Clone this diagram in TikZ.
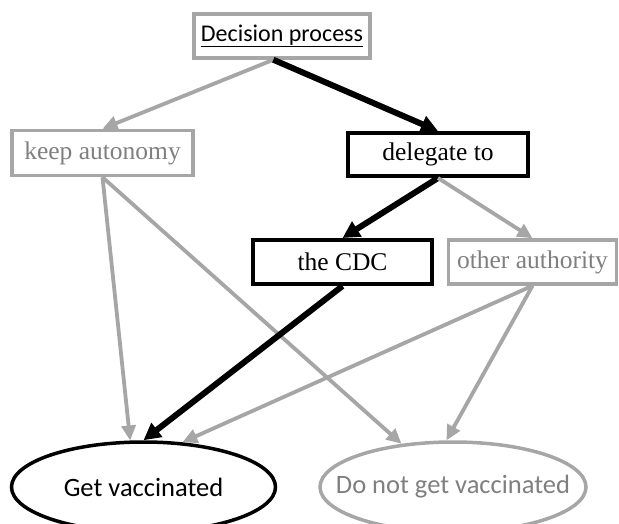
\documentclass[tikz,border=0pt]{standalone}
\usepackage{fontspec}
\setmainfont{Liberation Serif}
\newfontfamily\calibri{Carlito}
\usetikzlibrary{arrows.meta,shapes.geometric}
\definecolor{lgray}{HTML}{A6A6A6}
\definecolor{tgray}{HTML}{7F7F7F}
\begin{document}
\begin{tikzpicture}[x=1pt,y=-1pt,
  box/.style={draw,rectangle,inner sep=0pt,line width=3.5pt,font=\fontsize{25.5}{28}\selectfont},
  graybox/.style={box,draw=lgray,text=tgray},
  blackbox/.style={box,draw=black,line width=4pt},
  oval/.style={draw,ellipse,inner sep=0pt,line width=3.5pt,font=\calibri\fontsize{26.5}{30}\selectfont},
  garrow/.style={draw=lgray,line width=3.8pt,-{Triangle[length=15pt,width=14pt]}},
  barrow/.style={draw=black,line width=6pt,-{Triangle[length=17pt,width=17pt]}}]
\useasboundingbox (0,0) rectangle (619,523);
\node[box,draw=lgray,font=\calibri\fontsize{24}{28}\selectfont,minimum width=176pt,minimum height=44pt] (dp) at (282,36) {\underline{Decision process}};
\node[graybox,minimum width=181pt,minimum height=45pt] (keep) at (102.5,153) {keep autonomy};
\node[blackbox,minimum width=180pt,minimum height=43pt] (del) at (438,154.5) {delegate to};
\node[blackbox,minimum width=179pt,minimum height=44pt] (cdc) at (342.5,262) {the CDC};
\node[graybox,minimum width=168pt,minimum height=44pt] (oa) at (532.5,262) {other authority};
\node[oval,draw=black,minimum width=264pt,minimum height=90pt] (gv) at (143.5,487) {\makebox[0pt]{Get vaccinated}};
\node[oval,draw=lgray,text=tgray,minimum width=266pt,minimum height=90pt] (ngv) at (453,487) {\makebox[0pt]{Do not get vaccinated}};
\draw[garrow] (dp.250) -- (keep.north);
\draw[barrow] (dp.250) -- (del.north);
\draw[barrow] (del.south) -- (cdc.north);
\draw[garrow] (del.south) -- (oa.north);
\draw[garrow] (keep.south) -- (gv.106);
\draw[garrow] (keep.south) -- (ngv.140);
\draw[barrow] (cdc.south) -- (gv.90);
\draw[garrow] (oa.south) -- (gv.49);
\draw[garrow] (oa.south) -- (ngv.98);
\end{tikzpicture}
\end{document}
